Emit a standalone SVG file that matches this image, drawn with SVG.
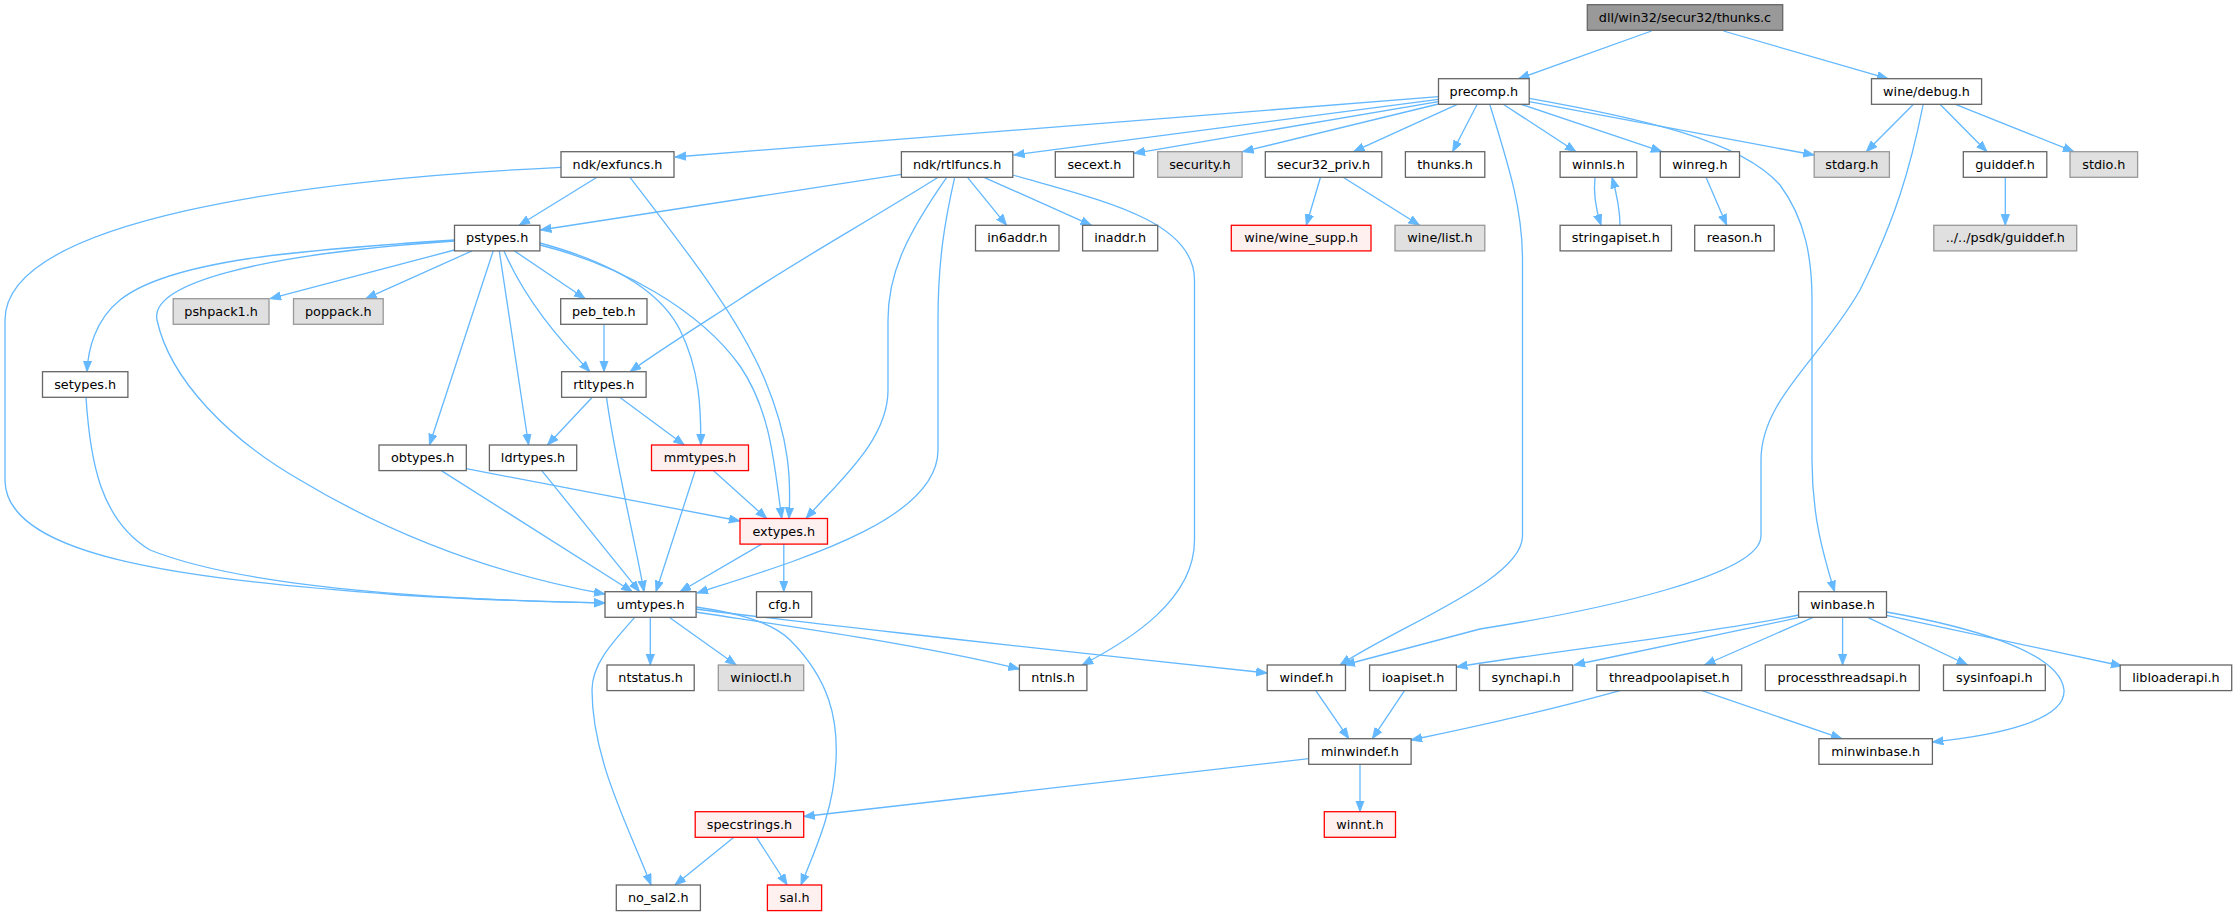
<svg xmlns="http://www.w3.org/2000/svg" width="2237" height="916" viewBox="0 0 2237 916">
<style>
.nd rect{fill:#ffffff;stroke:#666666;stroke-width:1.3}
.gr rect{fill:#e0e0e0;stroke:#999999;stroke-width:1.3}
.rd rect{fill:#fff0f0;stroke:#ff0000;stroke-width:1.3}
.rt rect{fill:#999999;stroke:#666666;stroke-width:1.3}
text{font-family:"DejaVu Sans","Liberation Sans",sans-serif;font-size:12.8px;text-anchor:middle;fill:#000}
#edges path{fill:none;stroke:#63b8ff;stroke-width:1.3;marker-end:url(#ah)}
</style>
<defs>
<marker id="ah" markerWidth="12" markerHeight="10" refX="11" refY="4.5" orient="auto" markerUnits="userSpaceOnUse">
<path d="M0,0.3 L11,4.5 L0,8.7 z" fill="#63b8ff" stroke="#63b8ff" stroke-width="0.8"/>
</marker>
</defs>
<rect width="2237" height="916" fill="#ffffff"/>
<g id="edges">
<path d="M1651.5,31 L1518.5,78.7"/>
<path d="M1723.5,31 L1888,78.7"/>
<path d="M1438.5,96.7 L675,157"/>
<path d="M1438.5,99.3 L1013.7,155"/>
<path d="M1438.5,101.7 L1134,153.3"/>
<path d="M1438.5,104 L1242.6,151.7"/>
<path d="M1457.3,104.3 L1353.5,151.7"/>
<path d="M1477.2,104.3 L1452.6,151.7"/>
<path d="M1503.2,104.3 L1576,151.7"/>
<path d="M1521,104.3 L1662,151.7"/>
<path d="M1529.2,101.7 L1814.2,155"/>
<path d="M1529.2,98.3 C1640,118 1740,140 1780,185 C1806,220 1812,260 1812,300 L1812,460 C1812,520 1825,560 1834.5,591.7"/>
<path d="M1489.7,104.3 C1510,170 1522.5,210 1522.5,260 L1522.5,536 C1522.5,580 1400,625 1340,665"/>
<path d="M1913.5,104.3 L1866.2,151.7"/>
<path d="M1923.2,104.3 C1910,170 1895,220 1860,290 C1820,360 1761,400 1761,460 L1761,536 C1761,575 1600,610 1480,629 L1344,665"/>
<path d="M1940,104.3 L1987,151.7"/>
<path d="M1955.5,104.3 L2074,151.7"/>
<path d="M2005.3,177.3 L2005.3,225.3"/>
<path d="M1595,177.3 C1593,195 1596,210 1601,225.3"/>
<path d="M1620,225.3 C1620,210 1617,195 1612,177.3"/>
<path d="M1706,177.3 L1726.7,225.3"/>
<path d="M1320.5,177.3 L1306.3,225.3"/>
<path d="M1343.1,177.3 L1419.6,225.3"/>
<path d="M597,177.3 L519.1,225.3"/>
<path d="M561,167.3 C300,180 5,220 5,320 L5,480 C5,560 200,580 400,595 C480,600 560,602 605,603"/>
<path d="M630,177.3 C690,255 740,320 765,380 C790,440 791,480 789,518.5"/>
<path d="M540,245 C620,265 700,310 740,366 C770,410 774,460 781.7,518.5"/>
<path d="M540,243 C610,262 660,290 680,330 C700,370 701,410 700.8,445"/>
<path d="M901.4,174.3 L540.4,230"/>
<path d="M938.2,177.3 C870,220 790,265 740,299 C700,325 660,350 630,371.7"/>
<path d="M946.7,177.3 C910,230 888,270 888,320 L888,390 C888,440 840,480 806,518.5"/>
<path d="M954.7,177.3 C945,220 938,260 938,320 L938,450 C938,520 800,560 697,593"/>
<path d="M967.5,177.3 L1006.6,225.3"/>
<path d="M984,177.3 L1091.6,225.3"/>
<path d="M1012.8,175 C1100,200 1194.5,220 1194.5,280 L1194.5,540 C1194.5,600 1130,640 1082,665"/>
<path d="M454.5,240 C300,250 170,260 120,300 C95,320 88,350 87,371.7"/>
<path d="M454.5,241 C250,255 150,285 157,320 C170,380 230,440 300,480 C400,540 500,575 605,594"/>
<path d="M454.5,250 L270,298.7"/>
<path d="M472,250.9 L365.7,298.7"/>
<path d="M493.2,250.9 L429.5,445"/>
<path d="M499.3,250.9 L528.6,445"/>
<path d="M504,250.9 C525,300 560,340 590,371.7"/>
<path d="M514.4,250.9 L585.2,298.7"/>
<path d="M604,324.3 L604,371.7"/>
<path d="M592.3,397.3 L547.5,445"/>
<path d="M619.7,397.3 L684.3,445"/>
<path d="M606.5,397.3 C615,460 635,540 644,591.7"/>
<path d="M86,397.3 C90,460 100,520 150,550 C250,590 450,600 605,603"/>
<path d="M441.3,470.6 L632.4,591.7"/>
<path d="M466.3,468.7 L740,521"/>
<path d="M541.8,470.6 L639.5,591.7"/>
<path d="M695.2,470.6 L656,591.7"/>
<path d="M713.3,470.6 L766.7,518.5"/>
<path d="M761.7,544.1 L680,591.7"/>
<path d="M783.8,544.1 L783.8,591.7"/>
<path d="M650.3,617.3 L650.3,665"/>
<path d="M669.2,617.3 L736.2,665"/>
<path d="M634.8,617.3 C610,645 592,665 592,690 C592,760 630,830 651,885"/>
<path d="M696,612 C730,618 900,640 1019.4,669"/>
<path d="M696,609 C740,615 1000,645 1267.2,673"/>
<path d="M696,607 C730,612 770,620 790,640 C830,680 838,720 836,760 C834,810 815,850 801,885"/>
<path d="M1315.8,690.6 L1348.8,738.7"/>
<path d="M1404.5,690.6 L1372.4,738.7"/>
<path d="M1620,690.6 C1550,710 1460,730 1411,740"/>
<path d="M1702,690.6 L1842,738.7"/>
<path d="M1308.7,758.7 L803.7,816.5"/>
<path d="M1360,764.3 L1360,811.7"/>
<path d="M733.9,837.3 L674.9,885"/>
<path d="M756.5,837.3 L787.2,885"/>
<path d="M1798.6,615 C1700,635 1560,650 1456.4,667"/>
<path d="M1798.6,617.7 L1574.1,665"/>
<path d="M1813.1,617.3 L1704.5,665"/>
<path d="M1842.6,617.3 L1842.6,665"/>
<path d="M1867.7,617.3 L1967.6,665"/>
<path d="M1886.5,615.3 L2122,666"/>
<path d="M1886.5,612 C1960,625 2060,650 2064,690 C2066,720 2000,735 1932.4,742"/>
</g>
<g id="n_root" class="rt"><rect x="1587.3" y="4.7" width="195.4" height="25.6"/><text x="1685" y="21.7">dll/win32/secur32/thunks.c</text></g>
<g id="n_precomp" class="nd"><rect x="1438.5" y="78.7" width="90.7" height="25.6"/><text x="1483.85" y="95.7">precomp.h</text></g>
<g id="n_wine_debug" class="nd"><rect x="1871.5" y="78.7" width="110.1" height="25.6"/><text x="1926.55" y="95.7">wine/debug.h</text></g>
<g id="n_exfuncs" class="nd"><rect x="561" y="151.7" width="113" height="25.6"/><text x="617.5" y="168.7">ndk/exfuncs.h</text></g>
<g id="n_rtlfuncs" class="nd"><rect x="901.4" y="151.7" width="111.4" height="25.6"/><text x="957.1" y="168.7">ndk/rtlfuncs.h</text></g>
<g id="n_secext" class="nd"><rect x="1055.3" y="151.7" width="78.3" height="25.6"/><text x="1094.45" y="168.7">secext.h</text></g>
<g id="n_security" class="gr"><rect x="1157.7" y="151.7" width="84.4" height="25.6"/><text x="1199.9" y="168.7">security.h</text></g>
<g id="n_secur32_priv" class="nd"><rect x="1265.3" y="151.7" width="116.5" height="25.6"/><text x="1323.55" y="168.7">secur32_priv.h</text></g>
<g id="n_thunks_h" class="nd"><rect x="1405.4" y="151.7" width="79.4" height="25.6"/><text x="1445.1" y="168.7">thunks.h</text></g>
<g id="n_winnls" class="nd"><rect x="1560.1" y="151.7" width="76.7" height="25.6"/><text x="1598.45" y="168.7">winnls.h</text></g>
<g id="n_winreg" class="nd"><rect x="1660.3" y="151.7" width="79.2" height="25.6"/><text x="1699.9" y="168.7">winreg.h</text></g>
<g id="n_stdarg" class="gr"><rect x="1814.2" y="151.7" width="75.2" height="25.6"/><text x="1851.8" y="168.7">stdarg.h</text></g>
<g id="n_guiddef" class="nd"><rect x="1963.3" y="151.7" width="83.5" height="25.6"/><text x="2005.05" y="168.7">guiddef.h</text></g>
<g id="n_stdio" class="gr"><rect x="2070" y="151.7" width="67.6" height="25.6"/><text x="2103.8" y="168.7">stdio.h</text></g>
<g id="n_pstypes" class="nd"><rect x="454.5" y="225.3" width="85.4" height="25.6"/><text x="497.2" y="242.3">pstypes.h</text></g>
<g id="n_in6addr" class="nd"><rect x="975.5" y="225.3" width="83.5" height="25.6"/><text x="1017.25" y="242.3">in6addr.h</text></g>
<g id="n_inaddr" class="nd"><rect x="1082.6" y="225.3" width="75.1" height="25.6"/><text x="1120.15" y="242.3">inaddr.h</text></g>
<g id="n_wine_supp" class="rd"><rect x="1231.3" y="225.3" width="139.7" height="25.6"/><text x="1301.15" y="242.3">wine/wine_supp.h</text></g>
<g id="n_wine_list" class="gr"><rect x="1395" y="225.3" width="89.8" height="25.6"/><text x="1439.9" y="242.3">wine/list.h</text></g>
<g id="n_stringapiset" class="nd"><rect x="1560.1" y="225.3" width="111.4" height="25.6"/><text x="1615.8" y="242.3">stringapiset.h</text></g>
<g id="n_reason" class="nd"><rect x="1694.7" y="225.3" width="79.5" height="25.6"/><text x="1734.45" y="242.3">reason.h</text></g>
<g id="n_psdk_guiddef" class="gr"><rect x="1933.8" y="225.3" width="142.9" height="25.6"/><text x="2005.25" y="242.3">../../psdk/guiddef.h</text></g>
<g id="n_pshpack1" class="gr"><rect x="173.2" y="298.7" width="95.8" height="25.6"/><text x="221.1" y="315.7">pshpack1.h</text></g>
<g id="n_poppack" class="gr"><rect x="293.5" y="298.7" width="89.7" height="25.6"/><text x="338.35" y="315.7">poppack.h</text></g>
<g id="n_peb_teb" class="nd"><rect x="560.7" y="298.7" width="86.3" height="25.6"/><text x="603.85" y="315.7">peb_teb.h</text></g>
<g id="n_setypes" class="nd"><rect x="42.5" y="371.7" width="85.4" height="25.6"/><text x="85.2" y="388.7">setypes.h</text></g>
<g id="n_rtltypes" class="nd"><rect x="561.6" y="371.7" width="84.5" height="25.6"/><text x="603.85" y="388.7">rtltypes.h</text></g>
<g id="n_obtypes" class="nd"><rect x="379" y="445" width="87.3" height="25.6"/><text x="422.65" y="462">obtypes.h</text></g>
<g id="n_ldrtypes" class="nd"><rect x="489.4" y="445" width="87.3" height="25.6"/><text x="533.05" y="462">ldrtypes.h</text></g>
<g id="n_mmtypes" class="rd"><rect x="651.5" y="445" width="97" height="25.6"/><text x="700" y="462">mmtypes.h</text></g>
<g id="n_extypes" class="rd"><rect x="740" y="518.5" width="87.5" height="25.6"/><text x="783.75" y="535.5">extypes.h</text></g>
<g id="n_umtypes" class="nd"><rect x="605" y="591.7" width="91.1" height="25.6"/><text x="650.55" y="608.7">umtypes.h</text></g>
<g id="n_cfg" class="nd"><rect x="756.5" y="591.7" width="55.2" height="25.6"/><text x="784.1" y="608.7">cfg.h</text></g>
<g id="n_winbase" class="nd"><rect x="1798.6" y="591.7" width="87.9" height="25.6"/><text x="1842.55" y="608.7">winbase.h</text></g>
<g id="n_ntstatus" class="nd"><rect x="607" y="665" width="87.2" height="25.6"/><text x="650.6" y="682">ntstatus.h</text></g>
<g id="n_winioctl" class="gr"><rect x="718.3" y="665" width="85.4" height="25.6"/><text x="761" y="682">winioctl.h</text></g>
<g id="n_ntnls" class="nd"><rect x="1019.4" y="665" width="67.5" height="25.6"/><text x="1053.15" y="682">ntnls.h</text></g>
<g id="n_windef" class="nd"><rect x="1267.2" y="665" width="78.3" height="25.6"/><text x="1306.35" y="682">windef.h</text></g>
<g id="n_ioapiset" class="nd"><rect x="1369.6" y="665" width="86.8" height="25.6"/><text x="1413" y="682">ioapiset.h</text></g>
<g id="n_synchapi" class="nd"><rect x="1479.5" y="665" width="93.2" height="25.6"/><text x="1526.1" y="682">synchapi.h</text></g>
<g id="n_threadpoolapiset" class="nd"><rect x="1596.8" y="665" width="144.9" height="25.6"/><text x="1669.25" y="682">threadpoolapiset.h</text></g>
<g id="n_processthreadsapi" class="nd"><rect x="1765.3" y="665" width="154" height="25.6"/><text x="1842.3" y="682">processthreadsapi.h</text></g>
<g id="n_sysinfoapi" class="nd"><rect x="1943.5" y="665" width="101.8" height="25.6"/><text x="1994.4" y="682">sysinfoapi.h</text></g>
<g id="n_libloaderapi" class="nd"><rect x="2120.2" y="665" width="111.5" height="25.6"/><text x="2175.95" y="682">libloaderapi.h</text></g>
<g id="n_minwindef" class="nd"><rect x="1308.7" y="738.7" width="102.4" height="25.6"/><text x="1359.9" y="755.7">minwindef.h</text></g>
<g id="n_minwinbase" class="nd"><rect x="1818.9" y="738.7" width="113.5" height="25.6"/><text x="1875.65" y="755.7">minwinbase.h</text></g>
<g id="n_specstrings" class="rd"><rect x="695.2" y="811.7" width="108.5" height="25.6"/><text x="749.45" y="828.7">specstrings.h</text></g>
<g id="n_winnt" class="rd"><rect x="1324.3" y="811.7" width="71.2" height="25.6"/><text x="1359.9" y="828.7">winnt.h</text></g>
<g id="n_no_sal2" class="nd"><rect x="616.3" y="885" width="84.1" height="25.6"/><text x="658.35" y="902">no_sal2.h</text></g>
<g id="n_sal" class="rd"><rect x="767.4" y="885" width="54.2" height="25.6"/><text x="794.5" y="902">sal.h</text></g>
</svg>
